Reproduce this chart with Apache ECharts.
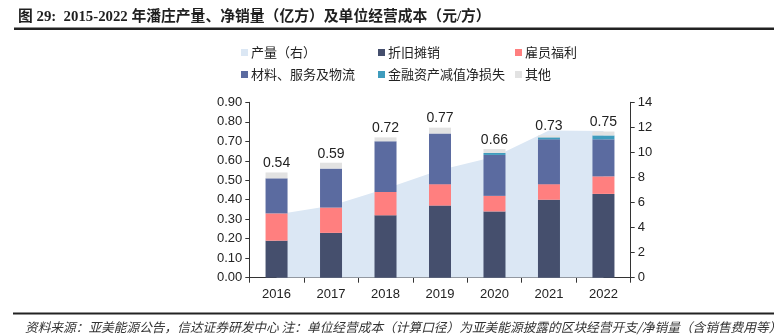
<!DOCTYPE html>
<html>
<head>
<meta charset="utf-8">
<style>
  html, body { margin: 0; padding: 0; background: #fff; }
  #chart { width: 774px; height: 336px; }
</style>
<script src="https://cdn.jsdelivr.net/npm/echarts@6/dist/echarts.min.js"></script>
</head>
<body>
<div id="chart"></div>
<script>
// Years on the category axis
const years = ['2016', '2017', '2018', '2019', '2020', '2021', '2022'];

// Unit operating cost components (yuan / cubic metre), stacked bottom to top
const depreciation = [0.19, 0.23, 0.32, 0.37, 0.34, 0.40, 0.43];
const employee     = [0.14, 0.13, 0.12, 0.11, 0.08, 0.08, 0.09];
const materials    = [0.18, 0.20, 0.26, 0.26, 0.21, 0.23, 0.19];
const impairment   = [0.00, 0.00, 0.00, 0.00, 0.01, 0.01, 0.02];
const others       = [0.03, 0.03, 0.02, 0.03, 0.02, 0.01, 0.02];

// Production (100 million cubic metres), right axis
const production = [5.05, 5.75, 7.1, 8.6, 9.65, 11.75, 11.7];

// Axis tick labels
const leftTicks = ['0.00','0.10','0.20','0.30','0.40','0.50','0.60','0.70','0.80','0.90'];
const rightTicks = ['0','2','4','6','8','10','12','14'];

const stacks = [depreciation, employee, materials, impairment, others];
const totalAt = i => stacks.reduce((s, arr) => s + arr[i], 0);

const FONT = 'Liberation Sans, Arial, "Noto Sans CJK SC", sans-serif';
const CJK = '"Noto Sans CJK SC", sans-serif';

const colors = {
  area: '#dbe7f4',
  dep: '#454f6d',
  emp: '#ff7f7f',
  mat: '#5b6ba0',
  imp: '#3f9cbd',
  oth: '#e2e2e2'
};

function legendAt(name, left, top) {
  return {
    data: [name],
    left: left, top: top,
    orient: 'horizontal',
    itemWidth: 7, itemHeight: 7,
    icon: 'rect',
    selectedMode: false,
    textStyle: { fontFamily: CJK, fontSize: 13, color: '#222', padding: [0, 0, 0, -2] }
  };
}

const chart = echarts.init(document.getElementById('chart'), null, { renderer: 'canvas' });

chart.setOption({
  animation: false,
  backgroundColor: '#fff',
  title: [
    {
      text: '图 29:  2015-2022 年潘庄产量、净销量（亿方）及单位经营成本（元/方）',
      left: 13, top: 5,
      textStyle: { fontFamily: '"Liberation Serif", "Noto Sans CJK SC", serif', fontWeight: 'bold', fontSize: 14.8, color: '#1f1f1f' }
    },
    {
      text: '资料来源：亚美能源公告，信达证券研发中心 注：单位经营成本（计算口径）为亚美能源披露的区块经营开支/净销量（含销售费用等）',
      left: 20, top: 316,
      textStyle: { fontFamily: CJK, fontStyle: 'italic', fontWeight: 'normal', fontSize: 12.7, color: '#333' }
    }
  ],
  graphic: [
    { type: 'rect', shape: { x: 14, y: 27.5, width: 760, height: 2.5 }, style: { fill: '#222' } },
    { type: 'rect', shape: { x: 13, y: 312.5, width: 761, height: 2 }, style: { fill: '#222' } }
  ],
  legend: [
    legendAt('产量（右）', 236, 41),
    legendAt('折旧摊销', 373, 41),
    legendAt('雇员福利', 510, 41),
    legendAt('材料、服务及物流', 236, 63),
    legendAt('金融资产减值净损失', 373, 63),
    legendAt('其他', 510, 63)
  ],
  grid: { left: 249.3, right: 143.3, top: 102.3, bottom: 58.3, containLabel: false },
  xAxis: {
    type: 'category',
    data: years,
    boundaryGap: true,
    axisLine: { lineStyle: { color: '#333', width: 1 } },
    axisTick: { show: true, length: 5, lineStyle: { color: '#333' } },
    axisLabel: { fontFamily: FONT, fontSize: 13, color: '#222', margin: 10 }
  },
  yAxis: [
    {
      type: 'value', min: 0, max: 0.9, interval: 0.1,
      axisLine: { show: true, lineStyle: { color: '#333' } },
      axisTick: { show: true, length: 4, lineStyle: { color: '#333' } },
      splitLine: { show: false },
      axisLabel: {
        fontFamily: FONT, fontSize: 13, color: '#222', margin: 7,
        formatter: (v) => leftTicks[Math.round(v * 10)]
      }
    },
    {
      type: 'value', min: 0, max: 14, interval: 2, position: 'right',
      axisLine: { show: true, lineStyle: { color: '#333' } },
      axisTick: { show: true, length: 4, lineStyle: { color: '#333' } },
      splitLine: { show: false },
      axisLabel: {
        fontFamily: FONT, fontSize: 13, color: '#222', margin: 7,
        formatter: (v) => rightTicks[Math.round(v / 2)]
      }
    }
  ],
  series: [
    {
      name: '产量（右）', type: 'line', yAxisIndex: 1, data: production,
      symbol: 'none', smooth: false, z: 1,
      itemStyle: { color: colors.area },
      lineStyle: { width: 0, color: colors.area },
      areaStyle: { color: colors.area, opacity: 1 }
    },
    { name: '折旧摊销', type: 'bar', stack: 'cost', data: depreciation, barWidth: 22, z: 2, itemStyle: { color: colors.dep } },
    { name: '雇员福利', type: 'bar', stack: 'cost', data: employee, z: 2, itemStyle: { color: colors.emp } },
    { name: '材料、服务及物流', type: 'bar', stack: 'cost', data: materials, z: 2, itemStyle: { color: colors.mat } },
    { name: '金融资产减值净损失', type: 'bar', stack: 'cost', data: impairment, z: 2, itemStyle: { color: colors.imp } },
    {
      name: '其他', type: 'bar', stack: 'cost', data: others, z: 2,
      itemStyle: { color: colors.oth },
      label: {
        show: true, position: 'top', distance: 2,
        fontFamily: FONT, fontSize: 14, color: '#222',
        formatter: (p) => totalAt(p.dataIndex).toFixed(2)
      }
    }
  ]
});
</script>
</body>
</html>
